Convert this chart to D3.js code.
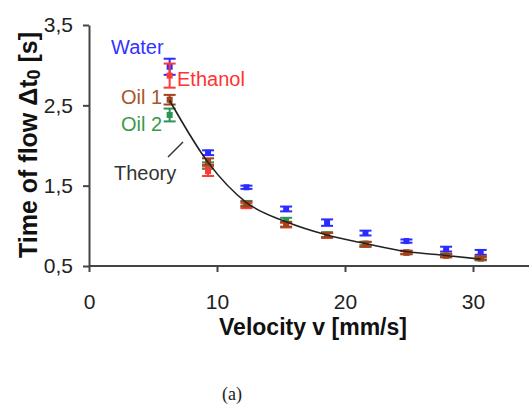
<!DOCTYPE html>
<html><head><meta charset="utf-8">
<script src="https://cdn.jsdelivr.net/npm/d3@7"></script>
<style>body{margin:0;background:#fff;} svg{display:block;}</style>
</head><body>
<svg id="c" width="529" height="408"></svg>
<script>
const velocity = [6.3, 9.3, 12.3, 15.4, 18.6, 21.6, 24.8, 27.9, 30.6];
const water   = [2.98, 1.91, 1.48, 1.21, 1.04, 0.91, 0.81, 0.71, 0.67];
const waterErr= [0.10, 0.03, 0.02, 0.03, 0.04, 0.03, 0.02, 0.03, 0.03];
const ethanol = [2.87, 1.68, 1.25, 1.01, 0.88, 0.77, 0.67, 0.63, 0.60];
const ethanolErr=[0.15, 0.06, 0.03, 0.03, 0.03, 0.03, 0.02, 0.02, 0.02];
const oil1    = [2.57, 1.80, 1.27, 1.02, 0.885, 0.77, 0.665, 0.63, 0.60];
const oil1Err = [0.06, 0.04, 0.03, 0.03, 0.03, 0.03, 0.02, 0.02, 0.02];
const oil2    = [2.38, 1.75, 1.28, 1.07, 0.89, 0.78, 0.67, 0.63, 0.59];
const oil2Err = [0.08, 0.04, 0.03, 0.03, 0.03, 0.02, 0.02, 0.02, 0.02];
const theory  = [2.56, 1.79, 1.29, 1.05, 0.885, 0.78, 0.68, 0.63, 0.585];
const xTicks = [0, 10, 20, 30];
const yTicks = [0.5, 1.5, 2.5, 3.5];

const svg = d3.select("#c");
const x = d3.scaleLinear().domain([0, 30]).range([89, 473]);
const y = d3.scaleLinear().domain([0.5, 3.5]).range([266, 25]);
const axisColor = "#444";
const font = "'Liberation Sans', Arial, Helvetica, sans-serif";

// axes
const xAxis = svg.append("g").attr("transform", "translate(0,266)")
  .call(d3.axisBottom(x).tickValues(xTicks).tickFormat(d3.format("d")).tickSize(6).tickSizeOuter(0));
xAxis.select(".domain").remove();
svg.append("line").attr("x1", 89).attr("x2", 529).attr("y1", 266).attr("y2", 266)
  .attr("stroke", axisColor).attr("stroke-width", 2);
const yAxis = svg.append("g").attr("transform", "translate(89,0)")
  .call(d3.axisLeft(y).tickValues(yTicks).tickFormat(d => d3.format(".1f")(d).replace(".", ",")).tickSize(6).tickSizeOuter(0));
yAxis.select(".domain").attr("stroke", axisColor).attr("stroke-width", 2);
[xAxis, yAxis].forEach(g => {
  g.attr("font-family", null).attr("font-size", null);
  g.selectAll(".tick line").attr("stroke", axisColor).attr("stroke-width", 2);
  g.selectAll(".tick text").style("font-family", font).style("font-size", "21px").attr("fill", "#222");
});
xAxis.selectAll(".tick text").attr("dy", "1.6em");
yAxis.selectAll(".tick text").attr("x", -16);

// series
const series = [
  {name: "Water", v: water, e: waterErr, c: "#2b2bff"},
  {name: "Oil 2", v: oil2, e: oil2Err, c: "#2e9550"},
  {name: "Ethanol", v: ethanol, e: ethanolErr, c: "#ff3838"},
  {name: "Oil 1", v: oil1, e: oil1Err, c: "#a0441c"}
];
series.forEach(s => {
  const g = svg.append("g");
  s.v.forEach((val, i) => {
    const cx = x(velocity[i]);
    const hw = 6;
    g.append("line").attr("x1", cx).attr("x2", cx).attr("y1", y(val + s.e[i])).attr("y2", y(val - s.e[i]))
      .attr("stroke", s.c).attr("stroke-width", 2);
    [val + s.e[i], val - s.e[i]].forEach(yy => {
      g.append("line").attr("x1", cx - hw).attr("x2", cx + hw).attr("y1", y(yy)).attr("y2", y(yy))
        .attr("stroke", s.c).attr("stroke-width", 2);
    });
    g.append("rect").attr("x", cx - 3).attr("y", y(val) - 3).attr("width", 6).attr("height", 6).attr("fill", s.c);
  });
});

// theory curve
const line = d3.line().x((d, i) => x(velocity[i])).y(d => y(d)).curve(d3.curveMonotoneX);
svg.append("path").attr("d", line(theory)).attr("fill", "none").attr("stroke", "#222").attr("stroke-width", 1.6);

// labels
const lab = (t, px, py, c) => svg.append("text").attr("x", px).attr("y", py).text(t)
  .style("font-family", font).style("font-size", "20px").attr("fill", c);
lab("Water", 111, 54, "#3333ff");
lab("Ethanol", 177, 86, "#ff3333");
lab("Oil 1", 121, 104, "#a8552a");
lab("Oil 2", 121, 131, "#3a9a4a");
lab("Theory", 114, 180, "#333");
svg.append("line").attr("x1", 168).attr("y1", 157).attr("x2", 183).attr("y2", 142).attr("stroke", "#333").attr("stroke-width", 1.5);

// axis titles
svg.append("text").attr("x", 313).attr("y", 335).attr("text-anchor", "middle")
  .style("font-family", font).style("font-size", "23px").style("font-weight", "bold").attr("fill", "#111")
  .text("Velocity v [mm/s]");
const yt = svg.append("text").attr("transform", "translate(37,145) rotate(-90)").attr("text-anchor", "middle")
  .style("font-family", font).style("font-size", "25px").style("font-weight", "bold").attr("fill", "#111");
yt.append("tspan").text("Time of flow Δt");
yt.append("tspan").style("font-size", "18px").attr("dy", 3).text("0");
yt.append("tspan").attr("dy", -3).text(" [s]");

svg.append("text").attr("x", 232).attr("y", 400).attr("text-anchor", "middle")
  .style("font-family", "'Liberation Serif', 'DejaVu Serif', serif").style("font-size", "18px").attr("fill", "#222").text("(a)");
</script>
</body></html>
